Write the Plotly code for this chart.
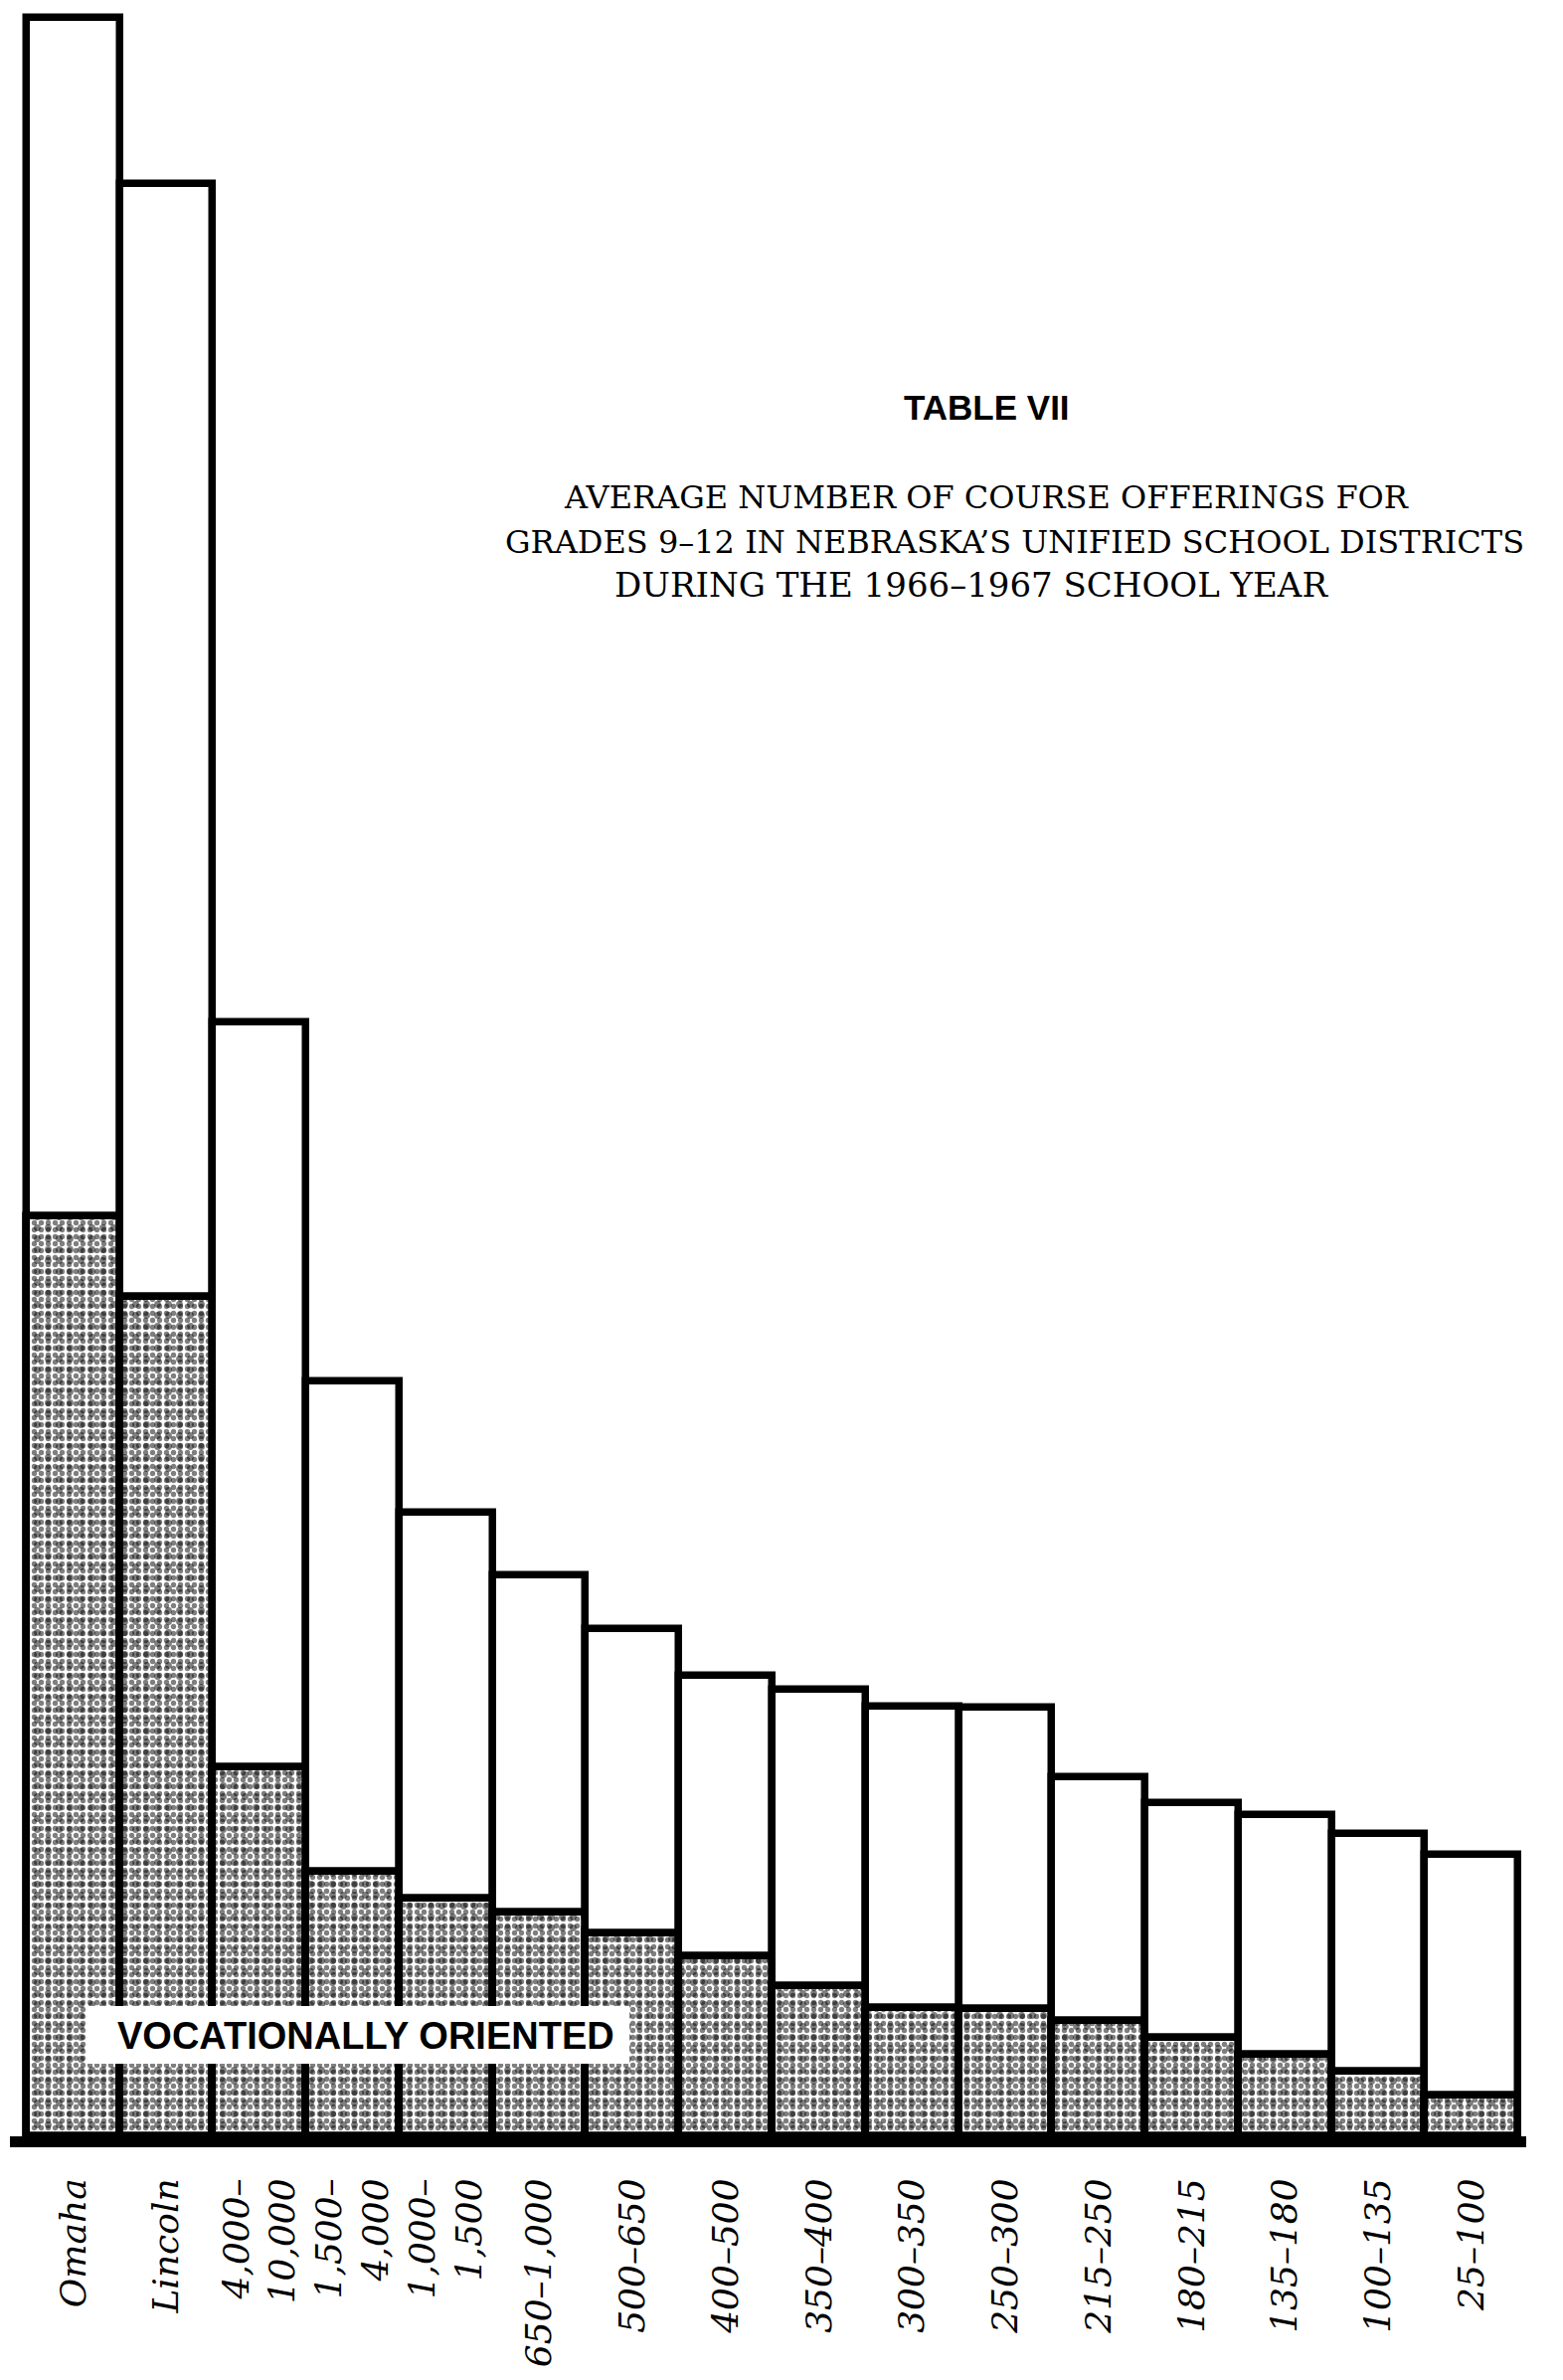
import plotly.graph_objects as go

# ---- data ----
categories = ["Omaha", "Lincoln", "4,000–<br>10,000", "1,500–<br>4,000", "1,000–<br>1,500",
              "650–1,000", "500–650", "400–500", "350–400", "300–350", "250–300",
              "215–250", "180–215", "135–180", "100–135", "25–100"]
total_offerings = [140.0, 129.0, 73.6, 49.9, 41.2, 37.1, 33.5, 30.4, 29.5, 28.4, 28.3,
                   23.7, 22.0, 21.2, 20.0, 18.6]
vocational_offerings = [60.8, 55.5, 24.4, 17.5, 15.7, 14.8, 13.4, 11.9, 9.9, 8.5, 8.4,
                        7.6, 6.5, 5.4, 4.3, 2.7]

W, H = 1572, 2393
OFF = 8  # page body margin of the html output
ML, MR, MT, MB = 2, 45, 0, 253
PW, PH = W - ML - MR, H - MT - MB

def px(xp):  # page x -> paper
    return (xp - OFF - ML) / PW

def py(yp):  # page y -> paper
    return (H - MB - (yp - OFF)) / PH

fig = go.Figure()
fig.add_trace(go.Bar(
    x=categories, y=total_offerings, name="All courses",
    marker=dict(color="white", line=dict(color="black", width=7.5)),
    hoverinfo="skip",
))
fig.add_trace(go.Bar(
    x=categories, y=vocational_offerings, name="Vocationally oriented",
    marker=dict(color="white",
                line=dict(color="black", width=7.5),
                pattern=dict(shape=".", fgcolor="black", bgcolor="white",
                             size=7, solidity=0.45)),
    hoverinfo="skip",
))
# second, coarser speckle layer over the vocational part (stippled texture)
fig.add_trace(go.Bar(
    x=categories, y=vocational_offerings, name="Vocationally oriented texture",
    marker=dict(color="rgba(0,0,0,0)",
                line=dict(color="black", width=7.5),
                pattern=dict(shape=".", fgcolor="black", bgcolor="rgba(0,0,0,0)",
                             size=11, solidity=0.3)),
    hoverinfo="skip",
))

sub_font = dict(family="DejaVu Serif", size=32, color="black")
annotations = [
    dict(text="<b>TABLE VII</b>", x=px(992), y=py(409), xref="paper", yref="paper",
         showarrow=False, xanchor="center", yanchor="middle",
         font=dict(family="Liberation Sans", size=35, color="black")),
    dict(text="AVERAGE NUMBER OF COURSE OFFERINGS FOR", x=px(992), y=py(500),
         xref="paper", yref="paper", showarrow=False, xanchor="center", yanchor="middle",
         font=sub_font),
    dict(text="GRADES 9–12 IN NEBRASKA’S UNIFIED SCHOOL DISTRICTS", x=px(1021), y=py(545),
         xref="paper", yref="paper", showarrow=False, xanchor="center", yanchor="middle",
         font=sub_font),
    dict(text="DURING THE 1966–1967 SCHOOL YEAR", x=px(977), y=py(588),
         xref="paper", yref="paper", showarrow=False, xanchor="center", yanchor="middle",
         font=dict(family="DejaVu Serif", size=34, color="black")),
    dict(text="<b>VOCATIONALLY ORIENTED</b>", x=px(368), y=py(2047),
         xref="paper", yref="paper", showarrow=False, xanchor="center", yanchor="middle",
         font=dict(family="Liberation Sans", size=38, color="black")),
]

shapes = [
    dict(type="rect", xref="paper", yref="paper", layer="above",
         x0=px(88), x1=px(633), y0=py(2075), y1=py(2017),
         fillcolor="white", line=dict(width=0)),
]

fig.update_layout(
    width=W, height=H,
    margin=dict(l=ML, r=MR, t=MT, b=MB),
    paper_bgcolor="white", plot_bgcolor="white",
    barmode="overlay", bargap=0,
    showlegend=False,
    annotations=annotations,
    shapes=shapes,
    xaxis=dict(
        type="category",
        range=[-0.681, 15.585],
        showline=True, linecolor="black", linewidth=11,
        showgrid=False, zeroline=False,
        ticks="", tickangle=-90,
        ticklabelstandoff=17,
        tickfont=dict(family="DejaVu Serif", size=36, color="black", style="italic"),
    ),
    yaxis=dict(
        range=[0, 140.66],
        showline=False, showgrid=False, zeroline=False,
        showticklabels=False, ticks="",
    ),
)

fig.write_html("out.html")
